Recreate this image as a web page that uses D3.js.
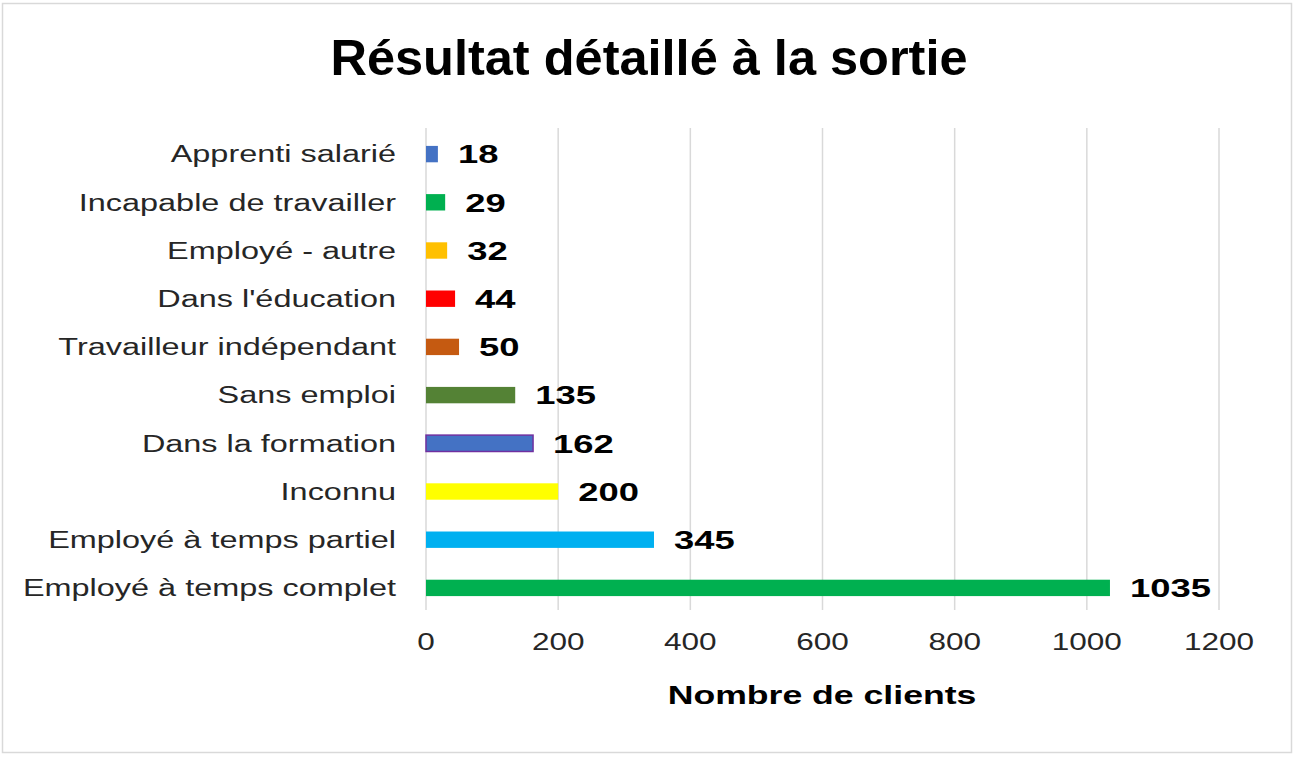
<!DOCTYPE html>
<html>
<head>
    <script src="https://d3js.org/d3.v7.min.js"></script>
    <style>
        body { margin: 0; background: #fff; }
        text { font-family: "Liberation Sans", Arial, sans-serif; }
    </style>
</head>
<body>
    <svg id="chart" width="1295" height="757"></svg>

    <script>
        var categories = ["Apprenti salarié", "Incapable de travailler", "Employé - autre", "Dans l'éducation",
            "Travailleur indépendant", "Sans emploi", "Dans la formation", "Inconnu",
            "Employé à temps partiel", "Employé à temps complet"];
        var values = [18, 29, 32, 44, 50, 135, 162, 200, 345, 1035];
        var colors = ["#4472C4", "#00B050", "#FFC000", "#FF0000", "#C55A11", "#548235", "#4472C4", "#FFFF00", "#00B0F0", "#00B050"];
        var xTicks = [0, 200, 400, 600, 800, 1000, 1200];

        // small text in the original is drawn wide
        var sx = 1.37;

        var svg = d3.select("#chart");

        // frame
        svg.append("rect").attr("x", 2.5).attr("y", 3.5).attr("width", 1289).attr("height", 749)
            .attr("fill", "#fff").attr("stroke", "#d9d9d9").attr("stroke-width", 1.5);

        var xScale = d3.scaleLinear().domain([0, 1200]).range([426, 1219]);
        var yScale = d3.scaleBand().domain(categories).range([130, 612]).paddingInner(0.66).paddingOuter(0.33);

        // gridlines
        svg.append("g").selectAll("line").data(xTicks).enter().append("line")
            .attr("x1", d => xScale(d)).attr("x2", d => xScale(d))
            .attr("y1", 128).attr("y2", 610)
            .attr("stroke", "#d9d9d9").attr("stroke-width", 1.5);

        // x axis labels
        svg.append("g").selectAll("text").data(xTicks).enter().append("text")
            .attr("transform", d => `translate(${xScale(d)},650) scale(${sx},1)`)
            .attr("text-anchor", "middle").style("font-size", "23px").style("fill", "#262626")
            .text(d => d);

        // bars
        svg.append("g").selectAll("rect").data(values).enter().append("rect")
            .attr("x", xScale(0))
            .attr("y", (d, i) => yScale(categories[i]))
            .attr("width", d => xScale(d) - xScale(0))
            .attr("height", yScale.bandwidth())
            .attr("fill", (d, i) => colors[i])
            .attr("stroke", (d, i) => categories[i] === "Dans la formation" ? "#7030A0" : "none")
            .attr("stroke-width", 1.5);

        // value labels
        svg.append("g").selectAll("text").data(values).enter().append("text")
            .attr("transform", (d, i) => `translate(${xScale(d) + 20},${yScale(categories[i]) + yScale.bandwidth() / 2}) scale(1.4,1)`)
            .attr("dy", "0.36em")
            .style("font-size", "26px").style("font-weight", "bold").style("fill", "#000")
            .text(d => d);

        // category labels
        svg.append("g").selectAll("text").data(categories).enter().append("text")
            .attr("transform", d => `translate(396,${yScale(d) + yScale.bandwidth() / 2}) scale(1.41,1)`)
            .attr("dy", "0.36em")
            .attr("text-anchor", "end")
            .style("font-size", "23px").style("fill", "#262626")
            .text(d => d);

        // axis title
        svg.append("text").attr("transform", `translate(822,704) scale(${sx},1)`).attr("text-anchor", "middle")
            .style("font-size", "26px").style("font-weight", "bold").style("fill", "#000")
            .text("Nombre de clients");

        // title
        svg.append("text").attr("x", 649).attr("y", 75).attr("text-anchor", "middle")
            .style("font-size", "50.5px").style("font-weight", "bold").style("fill", "#000")
            .text("Résultat détaillé à la sortie");
    </script>
</body>
</html>
